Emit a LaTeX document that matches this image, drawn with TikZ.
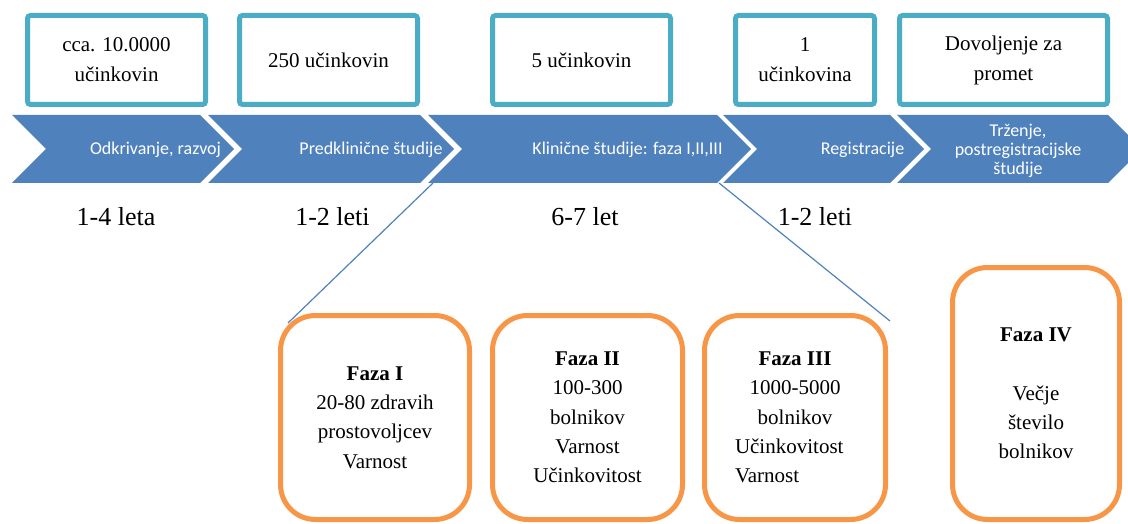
\documentclass[tikz,border=0pt]{standalone}
\usepackage{fontspec}
\setmainfont{Liberation Serif}
\newfontfamily\calibri{Carlito}
\usetikzlibrary{positioning, calc}

\definecolor{stepblue}{HTML}{4F81BD}
\definecolor{countteal}{HTML}{4BACC6}
\definecolor{phaseorange}{HTML}{F79646}

\begin{document}
\begin{tikzpicture}[
    x=1pt, y=-1pt,
    count/.style={draw=countteal, line width=5pt, rounded corners=3pt, minimum height=89pt, inner sep=0pt, align=center, font=\fontsize{21}{30}\selectfont},
    chevtext/.style={text=white, align=center, inner sep=0pt, font=\calibri\fontsize{18}{19}\selectfont},
    years/.style={inner sep=0pt, font=\fontsize{26}{30}\selectfont},
    phase/.style={draw=phaseorange, line width=5pt, rounded corners=35pt, inner sep=0pt, align=center, font=\fontsize{21}{29.3}\selectfont},
    link/.style={draw=stepblue, line width=1.2pt}
]
\useasboundingbox (0,0) rectangle (1128,524);

% Chevrons
\foreach \xl/\xr in {12/200, 208/420, 428/717, 723/890, 897/1108}
    \fill[stepblue] (\xl,115) -- (\xr,115) -- ++(34,34) -- (\xr,183) -- (\xl,183) -- ++(34,-34) -- cycle;
\coordinate (klin sw) at (433,183);
\coordinate (klin se) at (719,183);

\node (odkr) [chevtext] at (155.5,150) {Odkrivanje, razvoj};
\node (predkl) [chevtext] at (371,150) {Predklinične študije};
\node (klin) [chevtext] at (627.5,150) {Klinične študije: faza I,II,III};
\node (reg) [chevtext] at (862.5,150) {Registracije};
\node (trz) [chevtext] at (1018,151) {Trženje,\\postregistracijske\\študije};

% Number of compounds
\node (cnt1) [count, minimum width=178pt] at (116.5,60) {cca. 10.0000\\učinkovin};
\node (cnt2) [count, minimum width=178pt] at (328.5,60) {250 učinkovin};
\node (cnt3) [count, minimum width=178pt] at (581.5,60) {5 učinkovin};
\node (cnt4) [count, minimum width=139pt] at (805,60) {1\\učinkovina};
\node (cnt5) [count, minimum width=208pt] at (1003.5,60) {Dovoljenje za\\promet};

% Duration
\node (let1) [years] at (116,217) {1-4 leta};
\node (let2) [years] at (332.5,217) {1-2 leti};
\node (let3) [years] at (585,217) {6-7 let};
\node (let4) [years] at (815,217) {1-2 leti};

% Clinical phases
\node (faza1) [phase, minimum width=189pt, minimum height=204pt] at (375,417.5)
    {\textbf{Faza I}\\20-80 zdravih\\prostovoljcev\\Varnost};
\node (faza2) [phase, minimum width=190pt, minimum height=204pt] at (587.5,417.5)
    {\textbf{Faza II}\\100-300\\bolnikov\\Varnost\\Učinkovitost};
\node (faza3) [phase, minimum width=181pt, minimum height=204pt] at (795,417.5)
    {\textbf{Faza III}\\1000-5000\\bolnikov\\\makebox[120pt][l]{Učinkovitost}\\\makebox[120pt][l]{Varnost}};
\node (faza4) [phase, minimum width=167pt, minimum height=252pt] at (1036,393.5)
    {\textbf{Faza IV}\\[29pt]Večje\\število\\bolnikov};

% Connections
\draw [link] (klin sw) -- ($(faza1.north west)+(10,10)$);
\draw [link] (klin se) -- ($(faza3.north east)+(2,8)$);

\end{tikzpicture}
\end{document}
